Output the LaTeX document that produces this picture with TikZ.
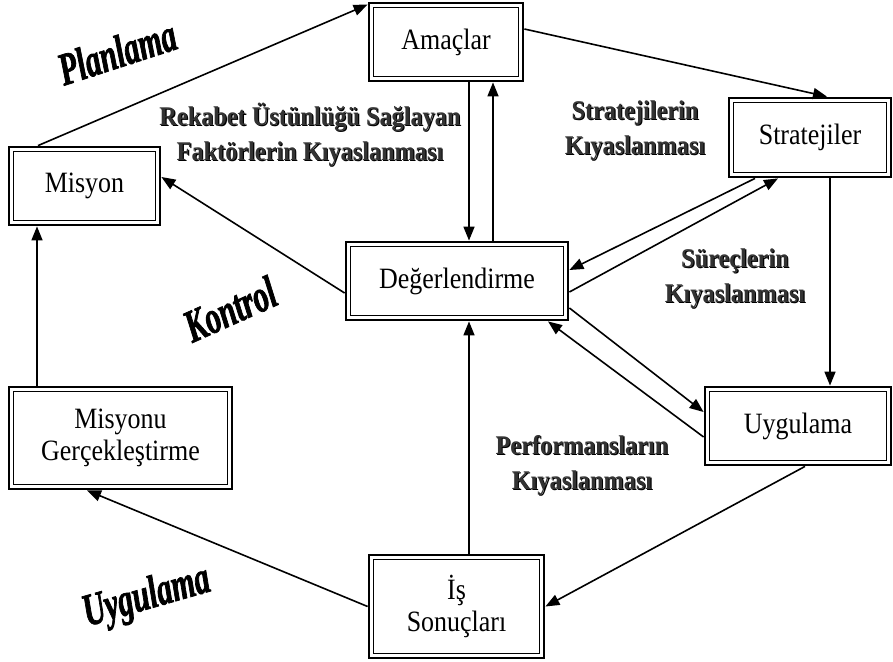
\documentclass[tikz,border=0pt]{standalone}
\usepackage{fontspec}
\setmainfont{Liberation Serif}
\newfontfamily\boxfont[FakeStretch=0.88]{Liberation Serif}
\newfontfamily\cmpfont[FakeStretch=0.9]{Liberation Serif}
\newfontfamily\phasefont[FakeStretch=0.66,FakeBold=1.5]{Liberation Serif}
\usetikzlibrary{arrows.meta,calc}
\newcommand{\shd}[1]{\rlap{\kern1.1pt\raisebox{-1.1pt}{\color{black}#1}}{\color{black!80}#1}}
\begin{document}
\begin{tikzpicture}[x=1pt,y=-1pt,
  box/.style={draw,line width=2.8pt,inner sep=0pt,align=center,
    font=\boxfont\fontsize{29.5}{32}\selectfont,
    path picture={\draw[line width=1.3pt]
      ([shift={(4.3pt,4.3pt)}]path picture bounding box.south west) rectangle
      ([shift={(-4.3pt,-4.3pt)}]path picture bounding box.north east);}},
  conn/.style={line width=1.6pt,-{Triangle[length=14pt,width=11pt]}},
  cmp/.style={font=\cmpfont\fontsize{27}{35}\selectfont\bfseries,align=center,inner sep=0pt},
  phase/.style={font=\phasefont\fontsize{46}{46}\selectfont\bfseries\itshape,inner sep=0pt}]
\useasboundingbox (0,0) rectangle (893,661);

\node[box,minimum width=154pt,minimum height=78pt] (amac) at (446,42) {Amaçlar};
\node[box,minimum width=162pt,minimum height=79pt] (strat) at (810,137.5) {Stratejiler};
\node[box,minimum width=151pt,minimum height=78pt] (misyon) at (84.5,186) {Misyon};
\node[box,minimum width=222pt,minimum height=78pt] (deger) at (457,281) {Değerlendirme};
\node[box,minimum width=223pt,minimum height=102pt] (misyg) at (120.5,438) {Misyonu\\Gerçekleştirme};
\node[box,minimum width=186pt,minimum height=78pt] (uyg) at (798,426) {Uygulama};
\node[box,minimum width=175pt,minimum height=103pt] (is) at (456.5,606.5) {İş\\Sonuçları};

% connectors
\draw[conn] ([xshift=-46.5pt]misyon.north) -- ([yshift=-3pt]amac.north west);
\draw[conn] ([yshift=13pt]amac.east) -- ([xshift=17pt]strat.north);
\draw[conn] ([xshift=23pt]amac.south) -- ([xshift=12pt]deger.north);
\draw[conn] ([xshift=36pt]deger.north) -- ([xshift=47pt]amac.south);
\draw[conn] ([xshift=-55pt]strat.south) -- ([yshift=11pt]deger.east);
\draw[conn] ([yshift=-11pt]deger.east) -- ([xshift=-32pt]strat.south);
\draw[conn] ([xshift=20pt]strat.south) -- ([xshift=32pt]uyg.north);
\draw[conn] ([yshift=-27pt]deger.east) -- ([yshift=14pt]uyg.west);
\draw[conn] ([yshift=-11pt]uyg.west) -- ([xshift=91pt]deger.south);
\draw[conn] ([xshift=7pt]uyg.south) -- (is.east);
\draw[conn] (is.west) -- ([xshift=-33.5pt]misyg.south);
\draw[conn] ([xshift=12.5pt]is.north) -- ([xshift=12pt]deger.south);
\draw[conn] ([xshift=-83.5pt]misyg.north) -- ([xshift=-47.5pt]misyon.south);
\draw[conn] ([yshift=-12pt]deger.west) -- ([yshift=9pt]misyon.east);

% comparison labels
\node[cmp] (rekabet) at (310,135) {\shd{Rekabet Üstünlüğü Sağlayan}\\\shd{Faktörlerin Kıyaslanması}};
\node[cmp] (stratk) at (635,131) {\shd{Stratejilerin}\\\shd{Kıyaslanması}};
\node[cmp] (surec) at (735,279) {\shd{Süreçlerin}\\\shd{Kıyaslanması}};
\node[cmp] (perf) at (582,466) {\shd{Performansların}\\\shd{Kıyaslanması}};

% phase labels
\node[phase,rotate=18] (planlama) at (117,52) {Planlama};
\node[phase,rotate=24] (kontrol) at (230,309) {Kontrol};
\node[phase,rotate=16] (uyglabel) at (147,598) {Uygulama};
\end{tikzpicture}
\end{document}
